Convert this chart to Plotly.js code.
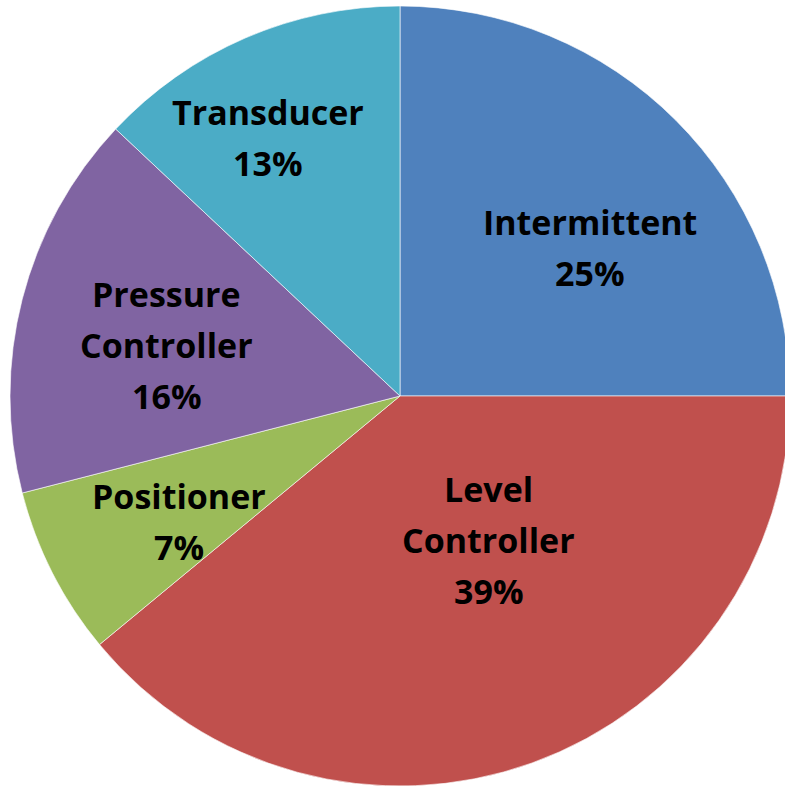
<!DOCTYPE html>
<html>
<head>
<meta charset="utf-8">
<script src="https://cdn.plot.ly/plotly-3.0.1.min.js"></script>
<style>
  html, body { margin: 0; padding: 0; overflow: hidden; background: #fff; }
  #chart { width: 800px; height: 790px; }
</style>
</head>
<body>
<div id="chart"></div>
<script>
// ---- data ----
const categories = ['Intermittent', 'Level Controller', 'Positioner', 'Pressure Controller', 'Transducer'];
const labelLines = [['Intermittent'], ['Level', 'Controller'], ['Positioner'], ['Pressure', 'Controller'], ['Transducer']];
const values = [25, 39, 7, 16, 13];
const colors = ['#4F81BD', '#C0504D', '#9BBB59', '#8064A2', '#4BACC6'];

// ---- label placement (style): angle shift from slice middle (deg) and radius fraction ----
const labelAngleShift = [6.9, -11.9, -2.7, -2.1, -3.6];
const labelRadiusFrac = [0.619, 0.434, 0.652, 0.612, 0.745];

const W = 800, H = 790;
const dom = { x: [10 / W, 790 / W], y: [4 / H, 784 / H] };
const cx = (dom.x[0] + dom.x[1]) / 2 * W;
const cy = (1 - (dom.y[0] + dom.y[1]) / 2) * H;
const R = Math.min((dom.x[1] - dom.x[0]) * W, (dom.y[1] - dom.y[0]) * H) / 2;
const lineGap = 51;

const total = values.reduce((a, b) => a + b, 0);
const annotations = [];
let cum = 0;
values.forEach((v, i) => {
  const mid = (cum + v / 2) / total * 360 + labelAngleShift[i];
  cum += v;
  const rad = mid * Math.PI / 180;
  const px = cx + labelRadiusFrac[i] * R * Math.sin(rad);
  const py = cy - labelRadiusFrac[i] * R * Math.cos(rad);
  const lines = labelLines[i].concat([Math.round(v / total * 100) + '%']);
  lines.forEach((t, j) => {
    const ly = py + (j - (lines.length - 1) / 2) * lineGap;
    annotations.push({
      text: t, xref: 'paper', yref: 'paper',
      x: px / W, y: 1 - ly / H, xanchor: 'center', yanchor: 'middle',
      showarrow: false,
      font: { family: 'Open Sans, sans-serif', size: 34, color: '#000', weight: 'bold' }
    });
  });
});

const trace = {
  type: 'pie',
  labels: categories,
  values: values,
  sort: false,
  direction: 'clockwise',
  rotation: 0,
  marker: { colors: colors, line: { color: 'rgba(255,255,255,0.6)', width: 1 } },
  textinfo: 'none',
  hoverinfo: 'label+percent',
  domain: dom
};

const layout = {
  width: W,
  height: H,
  margin: { l: 0, r: 0, t: 0, b: 0 },
  showlegend: false,
  paper_bgcolor: '#fff',
  annotations: annotations
};

Plotly.newPlot('chart', [trace], layout, { displayModeBar: false, staticPlot: true });
</script>
</body>
</html>
